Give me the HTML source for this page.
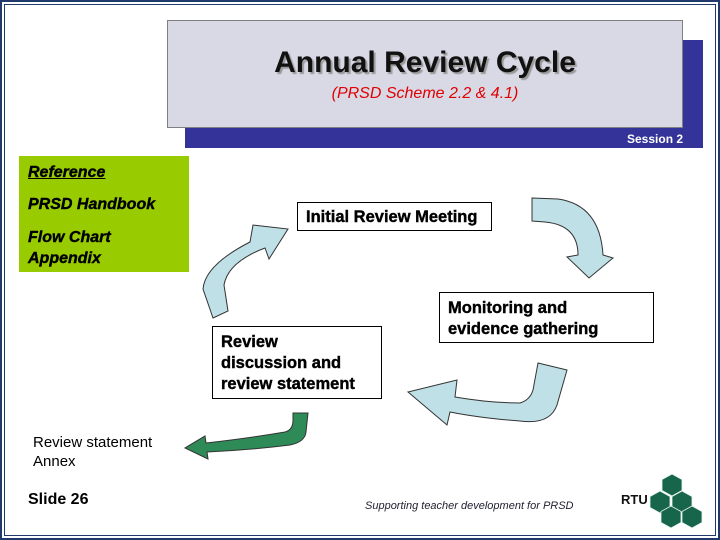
<!DOCTYPE html>
<html><head><style>
html,body{margin:0;padding:0}
body{width:720px;height:540px;position:relative;background:#fff;font-family:"Liberation Sans",Arial,sans-serif;overflow:hidden}
.abs{position:absolute}
.box{position:absolute;border:1px solid #000;background:#fff;font-weight:bold;font-size:16.5px;line-height:21px;box-sizing:border-box;-webkit-text-stroke:0.4px #000}
</style></head><body>
<div class="abs" style="left:0;top:0;width:720px;height:540px;box-sizing:border-box;border:2px solid #1f3a6b"></div>
<div class="abs" style="left:4px;top:4px;width:712px;height:532px;box-sizing:border-box;border:1px solid #1f3a6b"></div>
<div class="abs" style="left:185px;top:40px;width:518px;height:108px;background:#333399"></div>
<div class="abs" style="left:627px;top:132px;color:#fff;font-size:12px;font-weight:bold">Session 2</div>
<div class="abs" style="left:167px;top:20px;width:516px;height:108px;background:#d9d9e6;border:1px solid #808080;box-sizing:border-box"></div>
<div class="abs" style="left:167px;top:46px;width:516px;text-align:center;font-size:30px;font-weight:bold;color:#111;text-shadow:2px 2px 1px #999">Annual Review Cycle</div>
<div class="abs" style="left:167px;top:85px;width:516px;text-align:center;font-size:16px;font-style:italic;color:#e00000">(PRSD Scheme 2.2 &amp; 4.1)</div>
<div class="abs" style="left:19px;top:156px;width:170px;height:116px;background:#99cc00"></div>
<div class="abs" style="left:28px;top:162px;font-size:16px;font-weight:bold;font-style:italic;line-height:21px;-webkit-text-stroke:0.4px #000">
<u>Reference</u><div style="height:11px"></div>PRSD Handbook<div style="height:12px"></div>Flow Chart<br>Appendix</div>
<div class="box" style="left:297px;top:202px;width:195px;height:29px;padding:4px 0 0 8px">Initial Review Meeting</div>
<div class="box" style="left:439px;top:292px;width:215px;height:51px;padding:5px 0 0 8px">Monitoring and<br>evidence gathering</div>
<div class="box" style="left:212px;top:326px;width:170px;height:73px;padding:5px 0 0 8px">Review<br>discussion and<br>review statement</div>
<svg class="abs" style="left:0;top:0" width="720" height="540">
<g fill="#bfe0e6" stroke="#333" stroke-width="1">
<path d="M213,318 L203,289 Q205,265 250,242 L253,225 L288,229 L269,259 L265,248 Q228,262 224,285 L228,311 Z"/>
<path d="M532,198 L558,199 Q600,205 603,255 L613,258 L589,278 L567,257 L578,255 Q578,225 545,222 L532,221 Z"/>
<path d="M538,363 L567,370 L557,405 Q550,425 520,421 Q480,418 450,412 L447,425 L408,392 L457,380 L455,397 Q490,403 520,403 Q530,400 533,390 Z"/>
</g>
<path fill="#2e8b57" stroke="#333" d="M293,413 L308,413 L306,432 Q305,442 290,445 Q250,450 207,452 L208,459 L185,448 L205,436 L206,443 Q250,438 285,432 Q293,430 293,420 Z"/>
<g fill="#17654a" stroke="#e8f5ee" stroke-width="0.8">
<polygon points="672,474 682,479.5 682,490.5 672,496 662,490.5 662,479.5"/>
<polygon points="660,491 670,496.5 670,507.5 660,513 650,507.5 650,496.5"/>
<polygon points="682,491 692,496.5 692,507.5 682,513 672,507.5 672,496.5"/>
<polygon points="671,506 681,511.5 681,522.5 671,528 661,522.5 661,511.5"/>
<polygon points="692,506 702,511.5 702,522.5 692,528 682,522.5 682,511.5"/>
</g>
<text x="621" y="504" font-family="Liberation Sans" font-weight="bold" font-size="13" fill="#111">RTU</text>
</svg>
<div class="abs" style="left:33px;top:433px;font-size:15px;line-height:19px">Review statement<br>Annex</div>
<div class="abs" style="left:28px;top:491px;font-size:16px;font-weight:bold">Slide 26</div>
<div class="abs" style="left:365px;top:500px;font-size:11px;font-style:italic;color:#223">Supporting teacher development for PRSD</div>
</body></html>
